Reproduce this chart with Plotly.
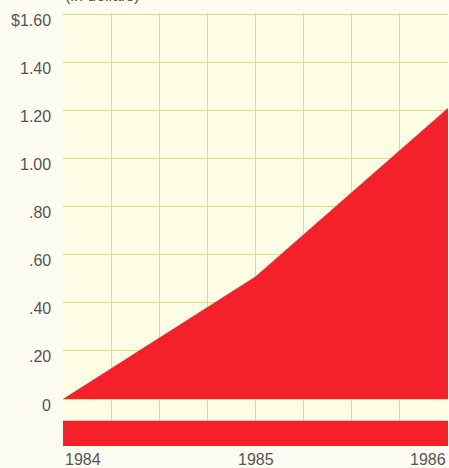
import plotly.graph_objects as go

# Dividends per share, in dollars
years = [1984, 1985, 1986]
dividends = [0.0, 0.51, 1.21]

y_ticks = [0, 0.2, 0.4, 0.6, 0.8, 1.0, 1.2, 1.4, 1.6]
y_tick_labels = ["0", ".20", ".40", ".60", ".80", "1.00", "1.20", "1.40", "$1.60"]
year_labels = ["1984", "1985", "1986"]

RED = "#f4202a"
CREAM = "#fdfce4"
PAGE = "#fcfcf2"
GRID = "#e6d680"
TEXT = "#555555"
FONT = "Liberation Sans, Arial, sans-serif"

Y_MIN, Y_MAX = -0.195, 1.605
BAND_TOP = -0.09

fig = go.Figure()

fig.add_trace(go.Scatter(
    x=years, y=dividends,
    mode="lines",
    line=dict(width=0, color=RED),
    fill="tozeroy",
    fillcolor=RED,
    hoverinfo="skip",
    showlegend=False,
))

# Solid strip along the bottom of the plot, below the zero band
fig.add_shape(
    type="rect", xref="x", yref="y",
    x0=years[0], x1=years[-1], y0=Y_MIN, y1=BAND_TOP,
    fillcolor=RED, line=dict(width=0), layer="above",
)

# Dollar labels, set slightly below their gridlines
for val, lab in zip(y_ticks, y_tick_labels):
    fig.add_annotation(
        x=0, y=val, xref="paper", yref="y",
        text=lab, showarrow=False,
        xanchor="right", yanchor="middle", xshift=-10, yshift=-6,
        font=dict(family=FONT, size=16, color=TEXT),
    )

# Year labels: first left-aligned, middle centred, last right-aligned
aligns = ["left", "center", "right"]
for yr, lab, al in zip(years, year_labels, aligns):
    fig.add_annotation(
        x=yr, y=0, xref="x", yref="paper",
        text=lab, showarrow=False,
        xanchor=al, yanchor="top", yshift=-3,
        font=dict(family=FONT, size=16, color=TEXT),
    )

# Units caption above the plot
fig.add_annotation(
    x=years[0], y=1, xref="x", yref="paper",
    text="(in dollars)", showarrow=False,
    xanchor="left", yanchor="bottom", xshift=0, yshift=7,
    font=dict(family=FONT, size=16, color=TEXT),
)

fig.update_layout(
    width=449, height=468,
    margin=dict(l=63, r=1, t=13, b=22),
    paper_bgcolor=PAGE,
    plot_bgcolor=CREAM,
    xaxis=dict(
        range=[years[0], years[-1]],
        dtick=0.25, tick0=years[0],
        showgrid=True, gridcolor=GRID, gridwidth=1,
        showticklabels=False, zeroline=False, showline=False,
        fixedrange=True,
    ),
    yaxis=dict(
        range=[Y_MIN, Y_MAX],
        tickvals=y_ticks,
        showgrid=True, gridcolor=GRID, gridwidth=1,
        zeroline=False, showline=False,
        ticks="", showticklabels=False,
        fixedrange=True,
    ),
)

fig.write_html("out.html")
